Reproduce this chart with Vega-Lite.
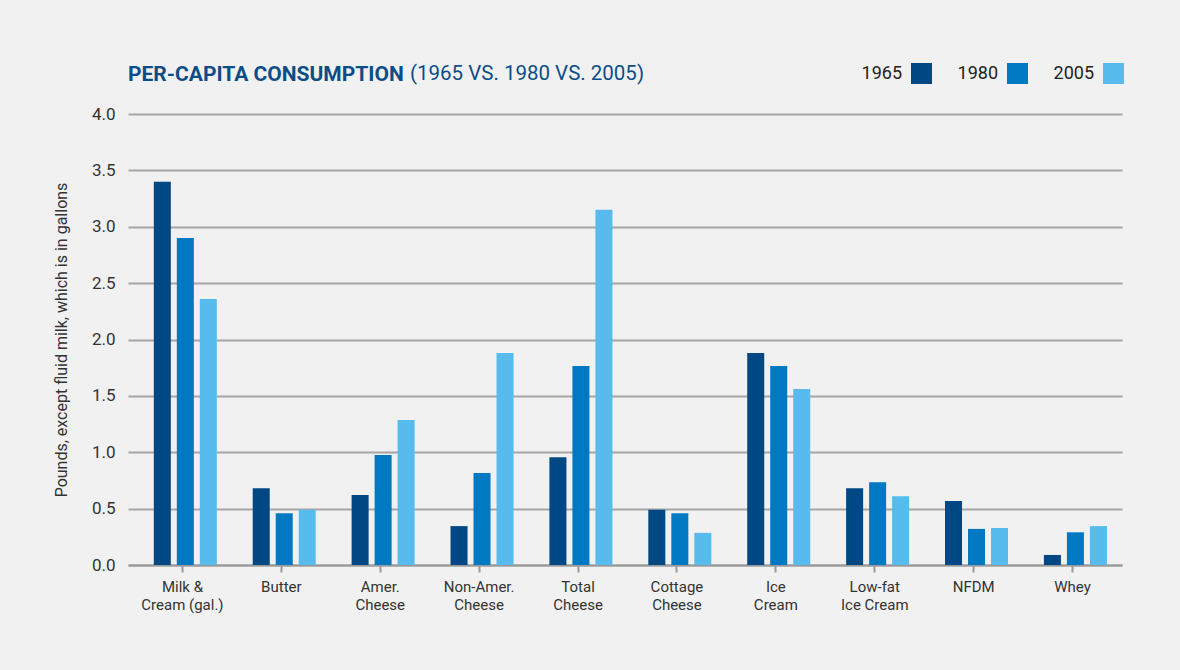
{
  "$schema": "https://vega.github.io/schema/vega-lite/v6.json",
  "width": 994,
  "height": 451,
  "autosize": {"type": "none"},
  "padding": {"left": 128, "top": 114, "right": 58, "bottom": 105},
  "background": "#f1f1f1",
  "title": {
    "text": "PER-CAPITA CONSUMPTION",
    "subtitle": "\u200b\u2003\u2003\u2003\u2003\u2003\u2003\u2003\u2003\u2003\u2003\u2003\u2003\u2003\u00a0\u00a0(1965 VS. 1980 VS. 2005)",
    "anchor": "start",
    "frame": "group",
    "offset": -22,
    "font": "Roboto",
    "fontSize": 21,
    "fontWeight": "bold",
    "color": "#0c4d87",
    "subtitleFont": "Roboto",
    "subtitleFontSize": 20.5,
    "subtitleFontWeight": "normal",
    "subtitleColor": "#0c4d87",
    "subtitlePadding": -21
  },
  "data": {
    "values": [
      {"cat": "Milk &|Cream (gal.)", "year": "1965", "value": 3.4},
      {"cat": "Milk &|Cream (gal.)", "year": "1980", "value": 2.9},
      {"cat": "Milk &|Cream (gal.)", "year": "2005", "value": 2.36},
      {"cat": "Butter", "year": "1965", "value": 0.68},
      {"cat": "Butter", "year": "1980", "value": 0.46},
      {"cat": "Butter", "year": "2005", "value": 0.49},
      {"cat": "Amer.|Cheese", "year": "1965", "value": 0.62},
      {"cat": "Amer.|Cheese", "year": "1980", "value": 0.975},
      {"cat": "Amer.|Cheese", "year": "2005", "value": 1.285},
      {"cat": "Non-Amer.|Cheese", "year": "1965", "value": 0.345},
      {"cat": "Non-Amer.|Cheese", "year": "1980", "value": 0.815},
      {"cat": "Non-Amer.|Cheese", "year": "2005", "value": 1.88},
      {"cat": "Total|Cheese", "year": "1965", "value": 0.955},
      {"cat": "Total|Cheese", "year": "1980", "value": 1.765},
      {"cat": "Total|Cheese", "year": "2005", "value": 3.15},
      {"cat": "Cottage|Cheese", "year": "1965", "value": 0.49},
      {"cat": "Cottage|Cheese", "year": "1980", "value": 0.46},
      {"cat": "Cottage|Cheese", "year": "2005", "value": 0.285},
      {"cat": "Ice|Cream", "year": "1965", "value": 1.88},
      {"cat": "Ice|Cream", "year": "1980", "value": 1.765},
      {"cat": "Ice|Cream", "year": "2005", "value": 1.56},
      {"cat": "Low-fat|Ice Cream", "year": "1965", "value": 0.68},
      {"cat": "Low-fat|Ice Cream", "year": "1980", "value": 0.735},
      {"cat": "Low-fat|Ice Cream", "year": "2005", "value": 0.61},
      {"cat": "NFDM", "year": "1965", "value": 0.567},
      {"cat": "NFDM", "year": "1980", "value": 0.32},
      {"cat": "NFDM", "year": "2005", "value": 0.328},
      {"cat": "Whey", "year": "1965", "value": 0.089},
      {"cat": "Whey", "year": "1980", "value": 0.29},
      {"cat": "Whey", "year": "2005", "value": 0.345}
    ]
  },
  "mark": {"type": "bar"},
  "encoding": {
    "x": {
      "field": "cat",
      "type": "nominal",
      "sort": ["Milk &|Cream (gal.)", "Butter", "Amer.|Cheese", "Non-Amer.|Cheese", "Total|Cheese", "Cottage|Cheese", "Ice|Cream", "Low-fat|Ice Cream", "NFDM", "Whey"],
      "scale": {"paddingInner": 0, "paddingOuter": 0.0253, "align": 1},
      "axis": {
        "title": null,
        "labelExpr": "split(datum.label, '|')",
        "labelAngle": 0,
        "labelFont": "Roboto",
        "labelFontSize": 15,
        "labelColor": "#333333",
        "labelLineHeight": 18,
        "labelPadding": 7,
        "domainColor": "#999999",
        "domainWidth": 2,
        "tickColor": "#999999",
        "tickWidth": 2,
        "tickSize": 7,
        "grid": false
      }
    },
    "xOffset": {
      "field": "year",
      "scale": {"paddingInner": 0.26, "paddingOuter": 0.78, "align": 0.58}
    },
    "y": {
      "field": "value",
      "type": "quantitative",
      "scale": {"domain": [0, 4]},
      "axis": {
        "title": "Pounds, except fluid milk, which is in gallons",
        "values": [0, 0.5, 1, 1.5, 2, 2.5, 3, 3.5, 4],
        "format": ".1f",
        "domain": false,
        "ticks": false,
        "labelFont": "Roboto",
        "labelFontSize": 17,
        "labelColor": "#333333",
        "labelPadding": 13,
        "gridColor": "#a6a6a6",
        "gridWidth": 2,
        "titleFont": "Roboto",
        "titleFontSize": 16,
        "titleFontWeight": "normal",
        "titleColor": "#333333",
        "titlePadding": 22
      }
    },
    "color": {
      "field": "year",
      "type": "nominal",
      "scale": {"domain": ["1965", "1980", "2005"], "range": ["#004883", "#0079c2", "#57bced"]},
      "legend": {
        "title": null,
        "orient": "none",
        "legendX": 783,
        "legendY": -51,
        "direction": "horizontal",
        "symbolType": "square",
        "symbolSize": 441,
        "symbolStrokeWidth": 0,
        "symbolOpacity": 1,
        "labelFont": "Roboto",
        "labelFontSize": 18,
        "labelColor": "#222222",
        "labelAlign": "right",
        "labelOffset": -30,
        "columnPadding": 25
      }
    }
  },
  "config": {"view": {"stroke": null}, "font": "Roboto"}
}
